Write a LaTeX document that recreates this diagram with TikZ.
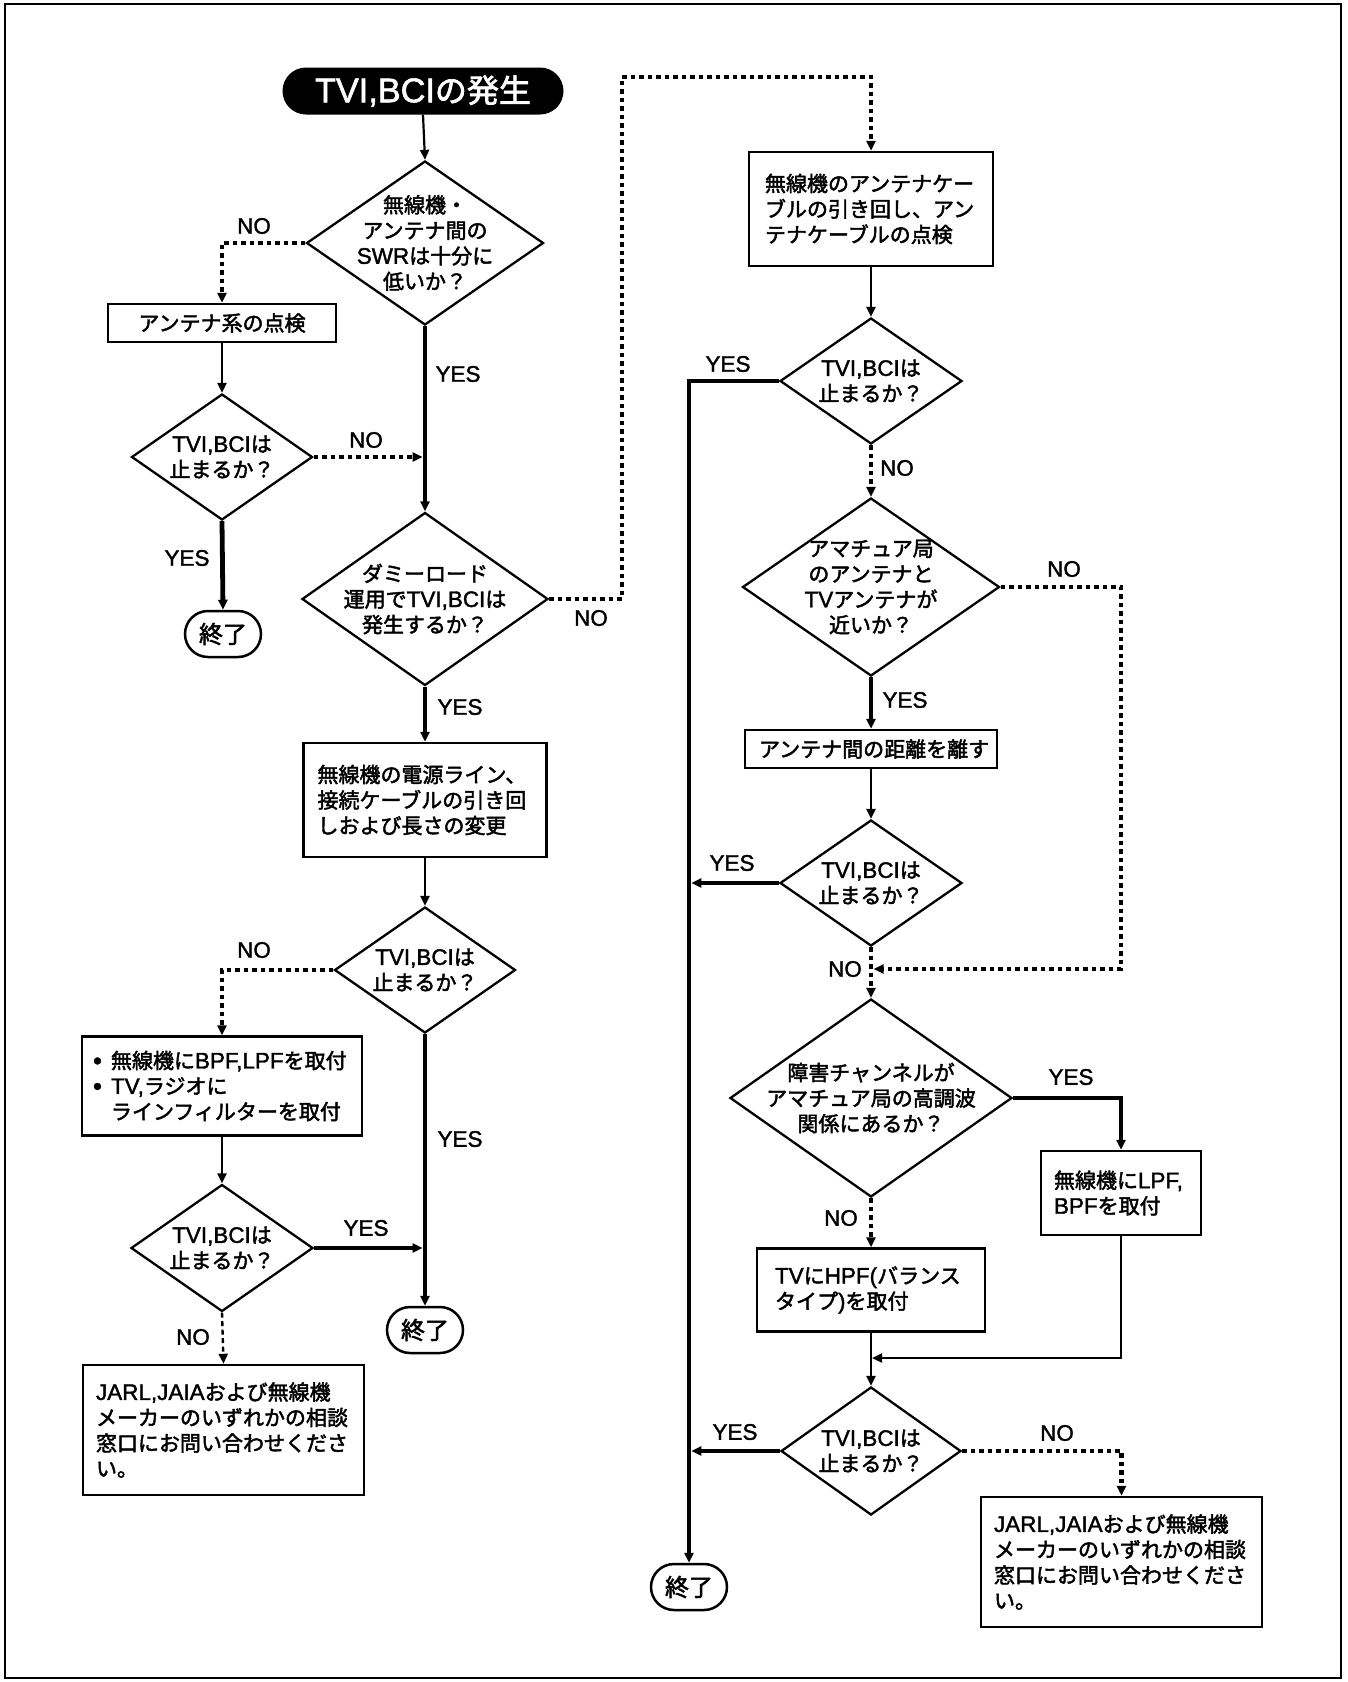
\documentclass[tikz,border=0pt]{standalone}
\usepackage{fontspec}
\setmainfont{Noto Sans CJK JP}[FakeBold=2.2]
\newfontfamily\lat{Liberation Sans}[Scale=1.07,FakeBold=1.6]
\newcommand\bulletmark{\makebox[15pt][l]{\hspace*{-3pt}\raisebox{-1pt}{\fontsize{24}{25}\selectfont\lat •}}}
\usetikzlibrary{arrows.meta,shapes.geometric}
\begin{document}
\begin{tikzpicture}[x=1pt,y=-1pt,
  base/.style={font=\fontsize{21}{25.5}\selectfont},
  box/.style={base, draw, line width=2.5pt, align=left, inner ysep=0pt, inner xsep=14pt},
  dia/.style={diamond, draw, line width=2.3pt, inner sep=0pt, line join=miter},
  dtext/.style={base, align=center, inner sep=0pt},
  term/.style={draw, line width=2.5pt, rounded corners=23pt, inner sep=0pt,
    font=\fontsize{24}{28}\selectfont, minimum width=76pt, minimum height=46pt},
  lbl/.style={font=\fontsize{21}{25}\selectfont\lat, inner sep=0pt},
  tip/.style={-{Triangle[length=10pt,width=9pt]}},
  arrA/.style={tip, line width=2.2pt},
  arrB/.style={tip, line width=4.8pt, line join=miter},
  arrM/.style={tip, line width=3.4pt},
  arrD/.style={tip, line width=4.6pt, dash pattern=on 4.5pt off 4pt, line join=miter},
  arrE/.style={tip, line width=2.4pt, dash pattern=on 5pt off 3.5pt},
]
\useasboundingbox (0,0) rectangle (1348,1682);
\draw[line width=1.5pt] (5,4) rectangle (1341,1678);

% ---------- left part ----------
\node[fill=black, rounded corners=23.5pt, minimum width=281pt, minimum height=47pt, inner sep=0pt,
  text=white, font=\fontsize{32}{36}\selectfont] (S) at (423,91) {{\lat TVI,BCI}の発生};

\node[dia, minimum width=237pt, minimum height=164pt] (D1) at (425,243) {};
\node[dtext] (D1t) at (D1) {無線機・\\アンテナ間の\\{\lat SWR}は十分に\\低いか？};

\node[box, align=center, text width=200pt, minimum height=38pt] (B1) at (222,323) {アンテナ系の点検};

\node[dia, minimum width=181pt, minimum height=126pt] (D2) at (222,457) {};
\node[dtext] (D2t) at (D2) {{\lat TVI,BCI}は\\止まるか？};

\node[term] (E1) at (223,634) {終了};

\node[dia, minimum width=246pt, minimum height=173pt] (D3) at (425,599) {};
\node[dtext] (D3t) at (D3) {ダミーロード\\運用で{\lat TVI,BCI}は\\発生するか？};

\node[box, text width=215pt, minimum height=114pt] (L3) at (425,800)
  {無線機の電源ライン、\\接続ケーブルの引き回\\しおよび長さの変更};

\node[dia, minimum width=181pt, minimum height=126pt] (LD4) at (425,970) {};
\node[dtext] (LD4t) at (LD4) {{\lat TVI,BCI}は\\止まるか？};

\node[box, text width=252pt, minimum height=99pt] (L5) at (222,1086)
  {\bulletmark 無線機に{\lat BPF,LPF}を取付\\
   \bulletmark{\lat TV,}ラジオに\\
   \hspace*{15pt}ラインフィルターを取付};

\node[dia, minimum width=182pt, minimum height=127pt] (LD6) at (222,1248) {};
\node[dtext] (LD6t) at (LD6) {{\lat TVI,BCI}は\\止まるか？};

\node[term] (E2) at (425,1330) {終了};

\node[box, inner xsep=13pt, text width=255pt, minimum height=130pt] (L7) at (223.5,1430)
  {{\lat JARL,JAIA}および無線機\\メーカーのいずれかの相談\\窓口にお問い合わせくださ\\い。};

% ---------- right part ----------
\node[box, inner xsep=16pt, text width=212pt, minimum height=114pt] (R1) at (871,209)
  {無線機のアンテナケー\\ブルの引き回し、アン\\テナケーブルの点検};

\node[dia, minimum width=182pt, minimum height=126pt] (RD1) at (871,381) {};
\node[dtext] (RD1t) at (RD1) {{\lat TVI,BCI}は\\止まるか？};

\node[dia, minimum width=257pt, minimum height=178pt] (RD2) at (871,587) {};
\node[dtext] (RD2t) at (RD2) {アマチュア局\\のアンテナと\\{\lat TV}アンテナが\\近いか？};

\node[box, align=center, text width=224pt, minimum height=38pt] (R2) at (871,749) {アンテナ間の距離を離す};

\node[dia, minimum width=182pt, minimum height=126pt] (RD3) at (871,883) {};
\node[dtext] (RD3t) at (RD3) {{\lat TVI,BCI}は\\止まるか？};

\node[dia, minimum width=282pt, minimum height=198pt] (RD4) at (871,1098) {};
\node[dtext] (RD4t) at (RD4) {障害チャンネルが\\アマチュア局の高調波\\関係にあるか？};

\node[box, inner xsep=13pt, text width=134pt, minimum height=84pt] (R3) at (1121,1193)
  {無線機に{\lat LPF,}\\{\lat BPF}を取付};

\node[box, inner xsep=18pt, text width=192pt, minimum height=83pt] (R4) at (871,1290)
  {{\lat TV}に{\lat HPF(}バランス\\タイプ{\lat )}を取付};

\node[dia, minimum width=180pt, minimum height=128pt] (RD5) at (871,1451) {};
\node[dtext] (RD5t) at (RD5) {{\lat TVI,BCI}は\\止まるか？};

\node[box, inner xsep=13pt, text width=255pt, minimum height=130pt] (R5) at (1121.5,1562)
  {{\lat JARL,JAIA}および無線機\\メーカーのいずれかの相談\\窓口にお問い合わせくださ\\い。};

\node[term] (E3) at (689,1587) {終了};

% ---------- coordinates ----------
\coordinate (c1) at (622,77);
\coordinate (c3) at (1121,969);
\coordinate (c4) at (1121,1358);

% ---------- connectors ----------
\draw[arrA] (S.south) -- (D1.north);
\draw[arrD] (D1.west) -| (B1.north);
\draw[arrA] (B1.south) -- (D2.north);
\draw[arrD, shorten >=2.4pt] (D2.east) -- (D2.east -| D1.south);
\draw[arrB] (D1.south) -- (D3.north);
\draw[arrB] (D2.south) -- (E1.north);
\draw[arrD] (D3.east) -| (c1) -| (R1.north);
\draw[arrB] (D3.south) -- (L3.north);
\draw[arrA] (L3.south) -- (LD4.north);
\draw[arrD] (LD4.west) -| (L5.north);
\draw[arrB] (LD4.south) -- (E2.north);
\draw[arrA] (L5.south) -- (LD6.north);
\draw[arrM, shorten >=2.4pt] (LD6.east) -- (LD6.east -| LD4.south);
\draw[arrE] (LD6.south) -- (L7.north);

\draw[arrA] (R1.south) -- (RD1.north);
\draw[arrB] (RD1.west) -| (E3.north);
\draw[arrD] (RD1.south) -- (RD2.north);
\draw[arrB] (RD2.south) -- (R2.north);
\draw[arrD, shorten >=2.6pt] (RD2.east) -| (c3) -- (c3 -| RD3.south);
\draw[arrA] (R2.south) -- (RD3.north);
\draw[arrB, shorten >=2.4pt] (RD3.west) -- (RD3.west -| E3.north);
\draw[arrD] (RD3.south) -- (RD4.north);
\draw[arrB] (RD4.east) -| (R3.north);
\draw[arrD] (RD4.south) -- (R4.north);
\draw[arrA] (R4.south) -- (RD5.north);
\draw[arrA, shorten >=1pt] (R3.south) -- (c4) -- (c4 -| R4.south);
\draw[arrB, shorten >=2.4pt] (RD5.west) -- (RD5.west -| E3.north);
\draw[arrD] (RD5.east) -| (R5.north);

% ---------- labels ----------
\node[lbl] (n1) at (254,226) {NO};
\node[lbl] (y1) at (458,374) {YES};
\node[lbl] (n2) at (366,440) {NO};
\node[lbl] (y2) at (187,558) {YES};
\node[lbl] (n3) at (591,618) {NO};
\node[lbl] (y3) at (460,707) {YES};
\node[lbl] (n4) at (254,950) {NO};
\node[lbl] (y4) at (460,1139) {YES};
\node[lbl] (y6) at (366,1228) {YES};
\node[lbl] (n6) at (193,1337) {NO};
\node[lbl] (yr1) at (728,364) {YES};
\node[lbl] (nr1) at (897,468) {NO};
\node[lbl] (nr2) at (1064,569) {NO};
\node[lbl] (yr2) at (905,700) {YES};
\node[lbl] (yr3) at (732,863) {YES};
\node[lbl] (nr3) at (845,969) {NO};
\node[lbl] (yr4) at (1071,1077) {YES};
\node[lbl] (nr4) at (841,1218) {NO};
\node[lbl] (yr5) at (735,1432) {YES};
\node[lbl] (nr5) at (1057,1433) {NO};
\end{tikzpicture}
\end{document}
